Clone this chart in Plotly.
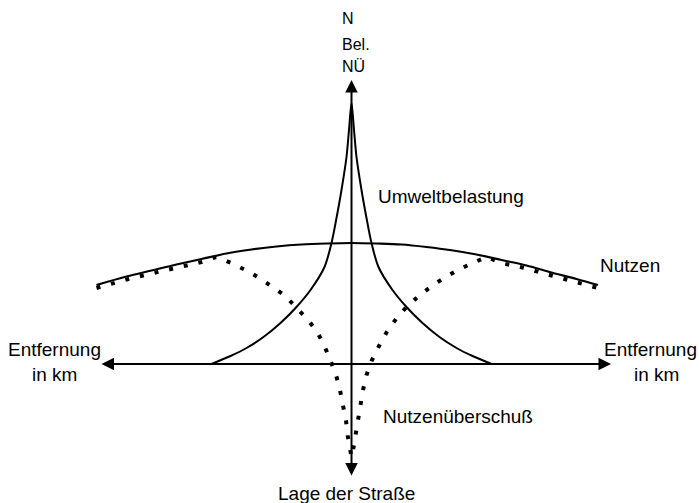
import plotly.graph_objects as go

# ---- data (distance in km, value in arbitrary units) ----
nutzen_x = [-10.2, -9, -8, -7, -6, -5, -4, -3, -2, -1, 0, 1, 2, 3, 4, 5, 6, 7, 8, 9, 9.86]
nutzen_y = [3.16, 3.50, 3.74, 3.98, 4.20, 4.42, 4.58, 4.70, 4.78, 4.82, 4.84,
            4.82, 4.78, 4.68, 4.55, 4.38, 4.16, 3.94, 3.66, 3.40, 3.16]

umwelt_x = [-5.6, -4.84, -4.2, -3.52, -2.84, -2.2, -1.64, -1.08, -0.8, -0.6, -0.4, -0.2, -0.1, 0,
            0.1, 0.2, 0.4, 0.6, 0.8, 1.08, 1.64, 2.2, 2.84, 3.52, 4.2, 4.84, 5.6]
umwelt_y = [0, 0.32, 0.64, 1.08, 1.64, 2.28, 2.96, 3.88, 4.84, 5.84, 6.96, 8.28, 9.36, 10.44,
            9.36, 8.28, 6.96, 5.84, 4.84, 3.88, 2.96, 2.28, 1.64, 1.08, 0.64, 0.32, 0]

ueberschuss_x = [-10.2, -9, -8, -7, -6, -5.42, -4.81, -4.24, -3.68, -3.16, -2.64, -2.21, -1.77,
                 -1.37, -1.08, -0.84, -0.62, -0.46, -0.33, -0.22, -0.15, -0.05, 0,
                 0.05, 0.15, 0.24, 0.35, 0.46, 0.6, 0.82, 1.1, 1.41, 1.78, 2.21, 2.66, 3.17,
                 3.70, 4.26, 4.85, 5.41, 6, 7, 8, 9, 9.86]
ueberschuss_y = [3.04, 3.38, 3.62, 3.86, 4.08, 4.28, 4.04, 3.76, 3.44, 3.08, 2.72, 2.25, 1.80,
                 1.28, 0.72, 0.13, -0.44, -1.04, -1.68, -2.27, -2.88, -3.52, -3.72,
                 -3.52, -2.88, -2.27, -1.68, -1.04, -0.44, 0.16, 0.72, 1.28, 1.80, 2.29, 2.69, 3.09,
                 3.44, 3.76, 4.04, 4.28, 4.04, 3.82, 3.54, 3.28, 3.04]

# axis extents (km / value units)
x_axis_left, x_axis_right = -10.06, 10.38
y_axis_bottom, y_axis_top = -4.52, 11.36

FONT = "Liberation Sans, Arial, sans-serif"

fig = go.Figure()

fig.add_trace(go.Scatter(x=ueberschuss_x, y=ueberschuss_y, mode="lines",
                         line=dict(color="black", width=4, dash="4px,11px"),
                         hoverinfo="skip"))
fig.add_trace(go.Scatter(x=nutzen_x, y=nutzen_y, mode="lines",
                         line=dict(color="black", width=2.2, shape="spline"),
                         hoverinfo="skip"))
fig.add_trace(go.Scatter(x=umwelt_x, y=umwelt_y, mode="lines",
                         line=dict(color="black", width=2, shape="spline", smoothing=0.8),
                         hoverinfo="skip"))

annotations = []
# axes arrows
annotations.append(dict(x=x_axis_right, y=0, ax=x_axis_left, ay=0, xref="x", yref="y",
                        axref="x", ayref="y", text="", showarrow=True,
                        arrowhead=2, startarrowhead=2, arrowside="end+start",
                        arrowsize=1.25, startarrowsize=1.25, arrowwidth=2, arrowcolor="black"))
annotations.append(dict(x=0, y=y_axis_top, ax=0, ay=y_axis_bottom, xref="x", yref="y",
                        axref="x", ayref="y", text="", showarrow=True,
                        arrowhead=2, startarrowhead=2, arrowside="end+start",
                        arrowsize=1.25, startarrowsize=1.25, arrowwidth=2, arrowcolor="black"))

def label(text, x, y, size=19, xanchor="left"):
    annotations.append(dict(x=x, y=y, xref="x", yref="y", text=text, showarrow=False,
                            xanchor=xanchor, yanchor="middle",
                            font=dict(family=FONT, size=size, color="black")))

label("N", -0.46, 13.82, 16)
label("Bel.", -0.46, 12.80, 16)
label("NÜ", -0.46, 11.92, 16)
label("Umweltbelastung", 0.98, 6.72)
label("Nutzen", 9.86, 3.96)
label("Nutzenüberschuß", 1.18, -2.08)
label("Entfernung", -11.88, 0.6, xanchor="center")
label("in km", -11.9, -0.4, xanchor="center")
label("Entfernung", 11.94, 0.6, xanchor="center")
label("in km", 12.18, -0.4, xanchor="center")
label("Lage der Straße", -0.22, -5.16, xanchor="center")

fig.update_layout(
    width=699, height=503,
    margin=dict(l=0, r=0, t=0, b=0),
    paper_bgcolor="white", plot_bgcolor="white",
    showlegend=False,
    hovermode=False,
    xaxis=dict(range=[-14.06, 13.90], visible=False, fixedrange=True),
    yaxis=dict(range=[-5.56, 14.56], visible=False, fixedrange=True),
    annotations=annotations,
)

fig.write_html("out.html",
               config={"displayModeBar": False, "staticPlot": True},
               post_script="document.body.style.margin='0';document.body.style.overflow='hidden';")
